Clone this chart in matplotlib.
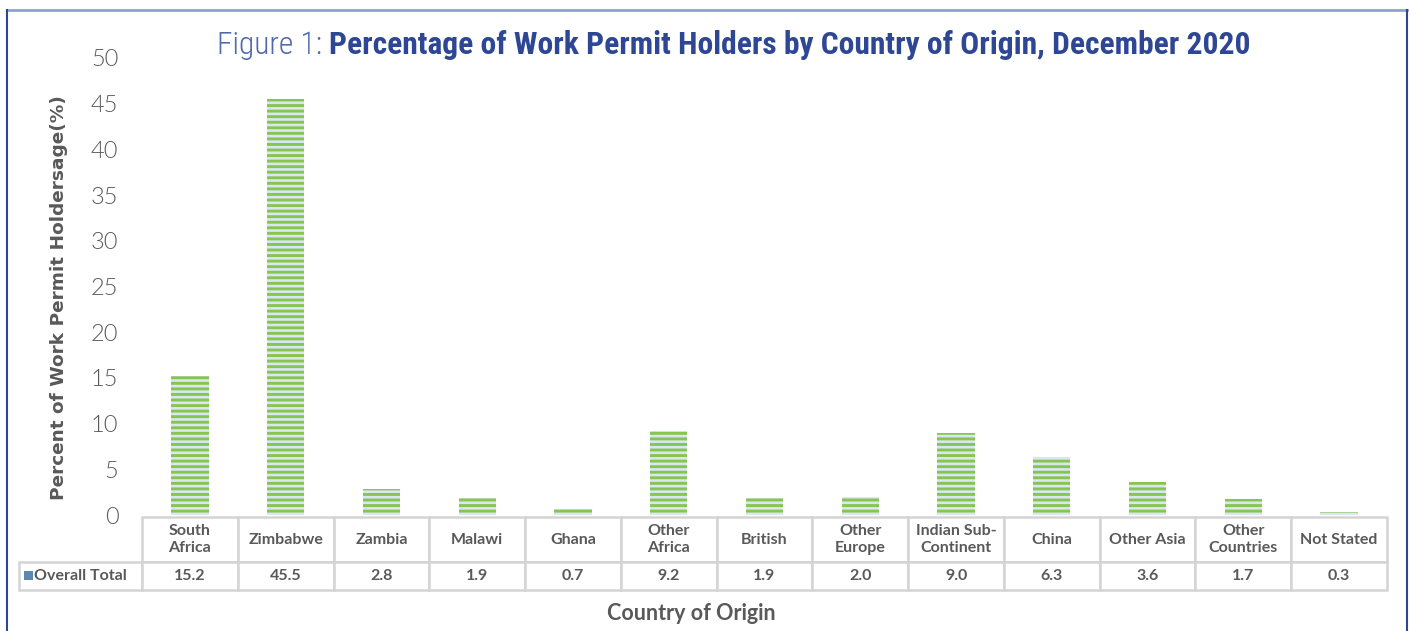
import matplotlib
matplotlib.use("Agg")
import matplotlib.pyplot as plt
from matplotlib.lines import Line2D
from matplotlib.patches import Rectangle

# dados
paises = ["South\nAfrica", "Zimbabwe", "Zambia", "Malawi", "Ghana", "Other\nAfrica",
          "British", "Other\nEurope", "Indian Sub-\nContinent", "China", "Other Asia",
          "Other\nCountries", "Not Stated"]
percentuais = [15.2, 45.5, 2.8, 1.9, 0.7, 9.2, 1.9, 2.0, 9.0, 6.3, 3.6, 1.7, 0.3]
serie = "Overall Total"
yticks = [0, 5, 10, 15, 20, 25, 30, 35, 40, 45, 50]

cinza = "#595959"
azul = "#2E4795"

W, H = 1410, 631
fig = plt.figure(figsize=(W / 100, H / 100), dpi=100)

# area do grafico (em pixels da referencia)
x0, x1 = 142, 1387
y0, y50 = 515, 58
ax = fig.add_axes([x0 / W, 1 - y0 / H, (x1 - x0) / W, (y0 - y50) / H])

plt.rcParams["hatch.linewidth"] = 1.9
xs = range(len(paises))
ax.bar(xs, percentuais, width=0.39, color="#86C64E", edgecolor="#DAE6F1",
       linewidth=0, hatch="---")
ax.set_xlim(-0.5, len(paises) - 0.5)
ax.set_ylim(0, 50)
ax.set_yticks(yticks)
ax.set_yticklabels([str(v) for v in yticks], fontsize=17, color=cinza,
                   family="Lato", fontweight=300)
ax.tick_params(axis="y", length=0, pad=17)
ax.set_xticks([])
for s in ax.spines.values():
    s.set_visible(False)

ax.set_ylabel("Percent of Work Permit Holdersage(%)", fontsize=13.3, color=cinza,
              fontweight="bold", family="DejaVu Sans")
ax.yaxis.set_label_coords(-(142 - 68) / (x1 - x0), (y0 - 298) / (y0 - y50))

# tabela de dados abaixo do grafico
lab_w = x0 - 19
col_w = (x1 - x0) / len(paises)
h_head, h_data = 45, 28
ax_h = y0 - y50
cell_text = [[""] + paises, [serie] + [f"{v:.1f}" for v in percentuais]]
tab = ax.table(cellText=cell_text, cellLoc="center",
               bbox=[-lab_w / (x1 - x0), -(h_head + h_data + 2) / ax_h,
                     (x1 - x0 + lab_w) / (x1 - x0), (h_head + h_data) / ax_h])
tab.auto_set_font_size(False)
for (r, c), cell in tab.get_celld().items():
    cell.set_width(lab_w if c == 0 else col_w)
    cell.set_height(h_head if r == 0 else h_data)
    cell.set_edgecolor("#D4D4D4")
    cell.set_linewidth(1.8)
    t = cell.get_text()
    t.set_fontsize(11.5)
    t.set_color(cinza)
    t.set_family("Lato")
    t.set_fontweight(700)
    t.set_linespacing(1.3)
    if r == 0 and c == 0:
        cell.set_edgecolor("none")
    if r == 1 and c == 0:
        cell._loc = "left"
        cell.PAD = 0.14

# quadradinho da legenda
fig.add_artist(Rectangle((24 / W, 1 - 580 / H), 9 / W, 9 / H, transform=fig.transFigure,
                         facecolor="#5B87B5", edgecolor="none"))

fig.text(691 / W, 1 - 613 / H, "Country of Origin", ha="center", va="center",
         fontsize=15.5, color=cinza, fontweight="bold", family="Lato")

# titulo
t1 = fig.text(217 / W, 1 - 45 / H, "Figure 1: ", ha="left", va="center", fontsize=22.7,
              color="#5068AE", family="Roboto Condensed", fontweight=300)
fig.canvas.draw()
bb = t1.get_window_extent()
fig.text(bb.x1 / W, 1 - 45 / H, "Percentage of Work Permit Holders by Country of Origin, December 2020",
         ha="left", va="center", fontsize=22.7, color=azul,
         family="Roboto Condensed", fontweight="bold")

# moldura
fig.add_artist(Line2D([7 / W, 1407 / W], [1 - 10 / H, 1 - 10 / H], transform=fig.transFigure,
                      color="#8FA2CF", lw=2))
fig.add_artist(Line2D([7 / W, 7 / W], [0, 1 - 10 / H], transform=fig.transFigure,
                      color=azul, lw=1.5))
fig.add_artist(Line2D([1407 / W, 1407 / W], [0, 1 - 10 / H], transform=fig.transFigure,
                      color=azul, lw=1.5))

fig.savefig("out.png", dpi=100)
